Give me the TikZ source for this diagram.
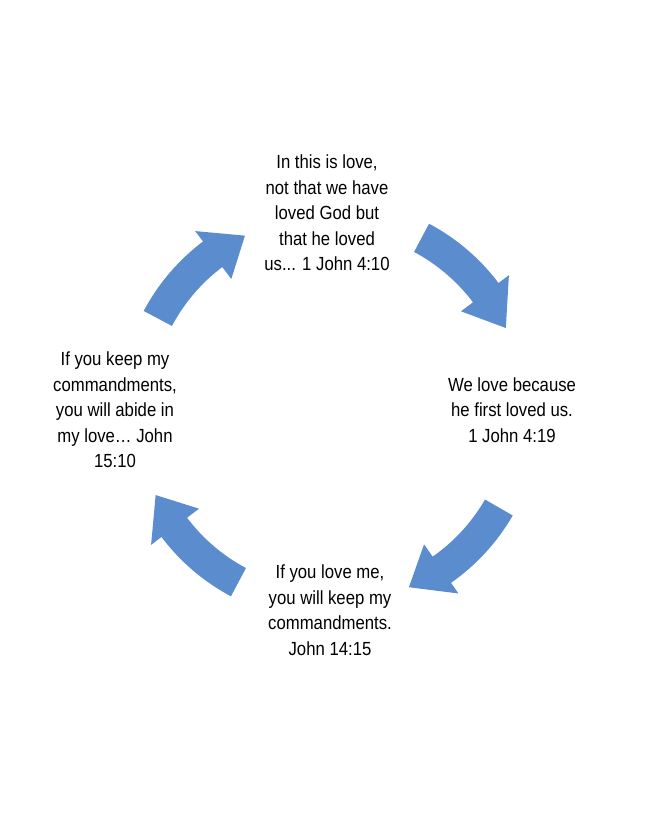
\documentclass[tikz,border=0pt]{standalone}
\usepackage{fontspec}
\setmainfont[FakeStretch=0.88]{Liberation Sans}
\definecolor{arr}{RGB}{91,141,206}
\begin{document}
\begin{tikzpicture}[x=1pt,y=1pt,
  lbl/.style={align=center,font=\fontsize{19}{25.5}\selectfont,inner sep=0pt},
  carrow/.style={fill=arr,draw=none}]
\useasboundingbox (0,0) rectangle (648,-826);
\coordinate (c) at (330,-410);
\newcommand{\cycarrow}[3]{%
  \fill[arr,shift={(c)}] (#1:211) arc[start angle=#1,end angle=#2,radius=211]
    -- (#2:224) -- (#3:194) -- (#2:164) -- (#2:179)
    arc[start angle=#2,end angle=#1,radius=179] -- cycle;}
\cycarrow{62}{37}{25}
\cycarrow{-30}{-55}{-66}
\cycarrow{-118}{-143}{-154}
\cycarrow{152}{127}{116}
\node[lbl] (t) at (327,-213) {In this is love,\\not that we have\\loved God but\\that he loved\\us... 1 John 4:10};
\node[lbl] (r) at (512,-410) {We love because\\he first loved us.\\1 John 4:19};
\node[lbl] (b) at (330,-610) {If you love me,\\you will keep my\\commandments.\\John 14:15};
\node[lbl] (l) at (115,-410) {If you keep my\\commandments,\\you will abide in\\my love… John\\15:10};
\end{tikzpicture}
\end{document}
